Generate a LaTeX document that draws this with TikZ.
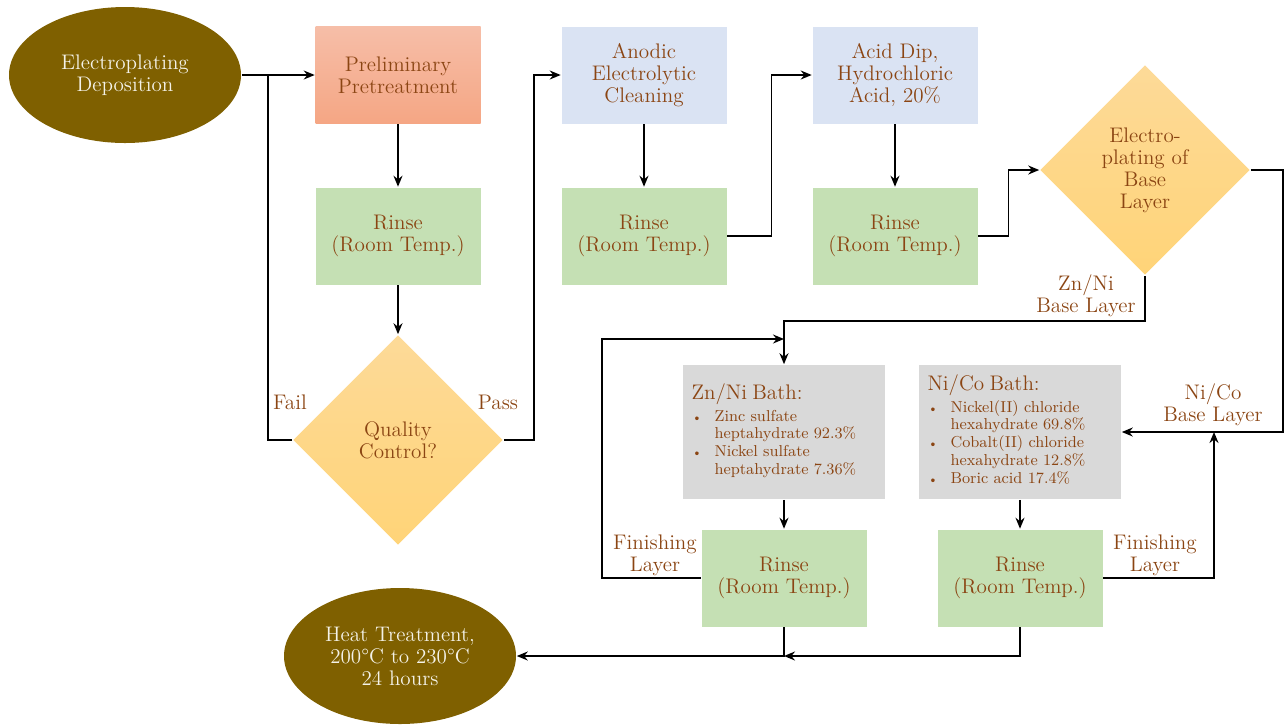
\documentclass[tikz,border=0pt]{standalone}
\usepackage{tikz}
\usetikzlibrary{arrows.meta, positioning, shapes.geometric}

\definecolor{olivebrown}{RGB}{127,96,0}
\definecolor{cream}{RGB}{244,242,232}
\definecolor{txtbrown}{RGB}{139,69,19}
\definecolor{peachtop}{RGB}{246,190,168}
\definecolor{peachbot}{RGB}{245,166,132}
\definecolor{cleanblue}{RGB}{218,227,243}
\definecolor{rinsegreen}{RGB}{197,224,180}
\definecolor{bathgray}{RGB}{217,217,217}
\definecolor{goldtop}{RGB}{253,218,152}
\definecolor{goldbot}{RGB}{255,212,120}

\tikzset{
  oval/.style={ellipse, fill=olivebrown, text=cream, minimum width=4.64cm,
    minimum height=2.72cm, inner sep=0pt},
  stagebox/.style={rectangle, minimum width=3.3cm, minimum height=1.94cm, inner sep=0pt},
  rinse/.style={stagebox, fill=rinsegreen},
  decide/.style={diamond, aspect=1, top color=goldtop, bottom color=goldbot,
    minimum width=4.2cm, minimum height=4.2cm, inner sep=0pt},
  bath/.style={rectangle, fill=bathgray, minimum height=2.68cm, text width=3.7cm,
    inner xsep=0.17cm, align=left, font=\fontsize{9}{10.2}\selectfont},
}
\newcommand{\bul}{{\fontsize{7}{7}\selectfont\textbullet}}
\newcommand{\bathtitle}[1]{{\fontsize{12}{13}\selectfont #1}}

\begin{document}
\begin{tikzpicture}[>={Stealth[length=2.2mm,width=1.8mm]}, line width=0.9pt,
  every node/.append style={text=txtbrown, align=center, font=\fontsize{12}{12.5}\selectfont}]
  \useasboundingbox (0,0) rectangle (25.68,-14.48);

  % top row
  \node[oval] (dep) at (2.5,-1.5) {Electroplating\\Deposition};
  \node[stagebox, top color=peachtop, bottom color=peachbot] (pre) at (7.96,-1.5) {Preliminary\\Pretreatment};
  \node[rinse] (rin1) at (7.96,-4.72) {Rinse\\(Room Temp.)};
  \node[decide] (qc) at (7.96,-8.8) {Quality\\Control?};
  \node[stagebox, fill=cleanblue] (ano) at (12.88,-1.5) {Anodic\\Electrolytic\\Cleaning};
  \node[rinse] (rin2) at (12.88,-4.72) {Rinse\\(Room Temp.)};
  \node[stagebox, fill=cleanblue] (acid) at (17.9,-1.5) {Acid Dip,\\Hydrochloric\\Acid, 20\%};
  \node[rinse] (rin3) at (17.9,-4.72) {Rinse\\(Room Temp.)};
  \node[decide] (base) at (22.9,-3.4) {Electro-\\plating of\\Base\\Layer};

  % baths
  \node[bath] (znni) at (15.68,-8.64) {\bathtitle{Zn/Ni Bath:}\\[1pt]
    \begin{tabular}{@{}l@{\hspace{7pt}}l@{}}
      \bul & Zinc sulfate\\ & heptahydrate 92.3\%\\
      \bul & Nickel sulfate\\ & heptahydrate 7.36\%
    \end{tabular}};
  \node[bath] (nico) at (20.4,-8.64) {\bathtitle{Ni/Co Bath:}\\[1pt]
    \begin{tabular}{@{}l@{\hspace{7pt}}l@{}}
      \bul & Nickel(II) chloride\\ & hexahydrate 69.8\%\\
      \bul & Cobalt(II) chloride\\ & hexahydrate 12.8\%\\
      \bul & Boric acid 17.4\%
    \end{tabular}};
  \node[rinse] (rin4) at (15.68,-11.56) {Rinse\\(Room Temp.)};
  \node[rinse] (rin5) at (20.4,-11.56) {Rinse\\(Room Temp.)};
  \node[oval] (heat) at (8.0,-13.12) {Heat Treatment,\\200\textdegree C to 230\textdegree C\\24 hours};

  % joins
  \coordinate (failj) at (5.36,-1.5);
  \coordinate (finj) at (15.68,-6.78);
  \coordinate (nicoj) at (24.28,-8.64);
  \coordinate (heatj) at (15.68,-13.12);

  % labels
  \node (lfail) at (5.8,-8.04) {Fail};
  \node (lpass) at (9.96,-8.04) {Pass};
  \node (lznni) at (21.72,-5.92) {Zn/Ni\\Base Layer};
  \node (lnico) at (24.26,-8.1) {Ni/Co\\Base Layer};
  \node (lfin1) at (13.1,-11.1) {Finishing\\Layer};
  \node (lfin2) at (23.1,-11.1) {Finishing\\Layer};

  % connectors
  \draw[->] (dep.east) -- (pre.west);
  \draw[->] (pre) -- (rin1);
  \draw[->] (rin1) -- (qc.north);
  \draw (qc.west) -| (failj);
  \draw[->] (qc.east) -- ++(0.6,0) |- (ano.west);
  \draw[->] (ano) -- (rin2);
  \draw[->] (rin2.east) -- ++(0.88,0) |- (acid.west);
  \draw[->] (acid) -- (rin3);
  \draw[->] (rin3.east) -- ++(0.6,0) |- (base.west);
  \draw[->] (base.south) -- ++(0,-0.9) -| (znni.north);
  \draw[->] (base.east) -- ++(0.64,0) |- (nico.east);
  \draw[->] (znni) -- (rin4);
  \draw[->] (nico) -- (rin5);
  \draw[->] (rin4.west) -- ++(-1.98,0) |- (finj);
  \draw[->] (rin5.east) -| (nicoj);
  \draw[->] (rin4.south) |- (heat.east);
  \draw[->] (rin5.south) |- (heatj);
\end{tikzpicture}
\end{document}
